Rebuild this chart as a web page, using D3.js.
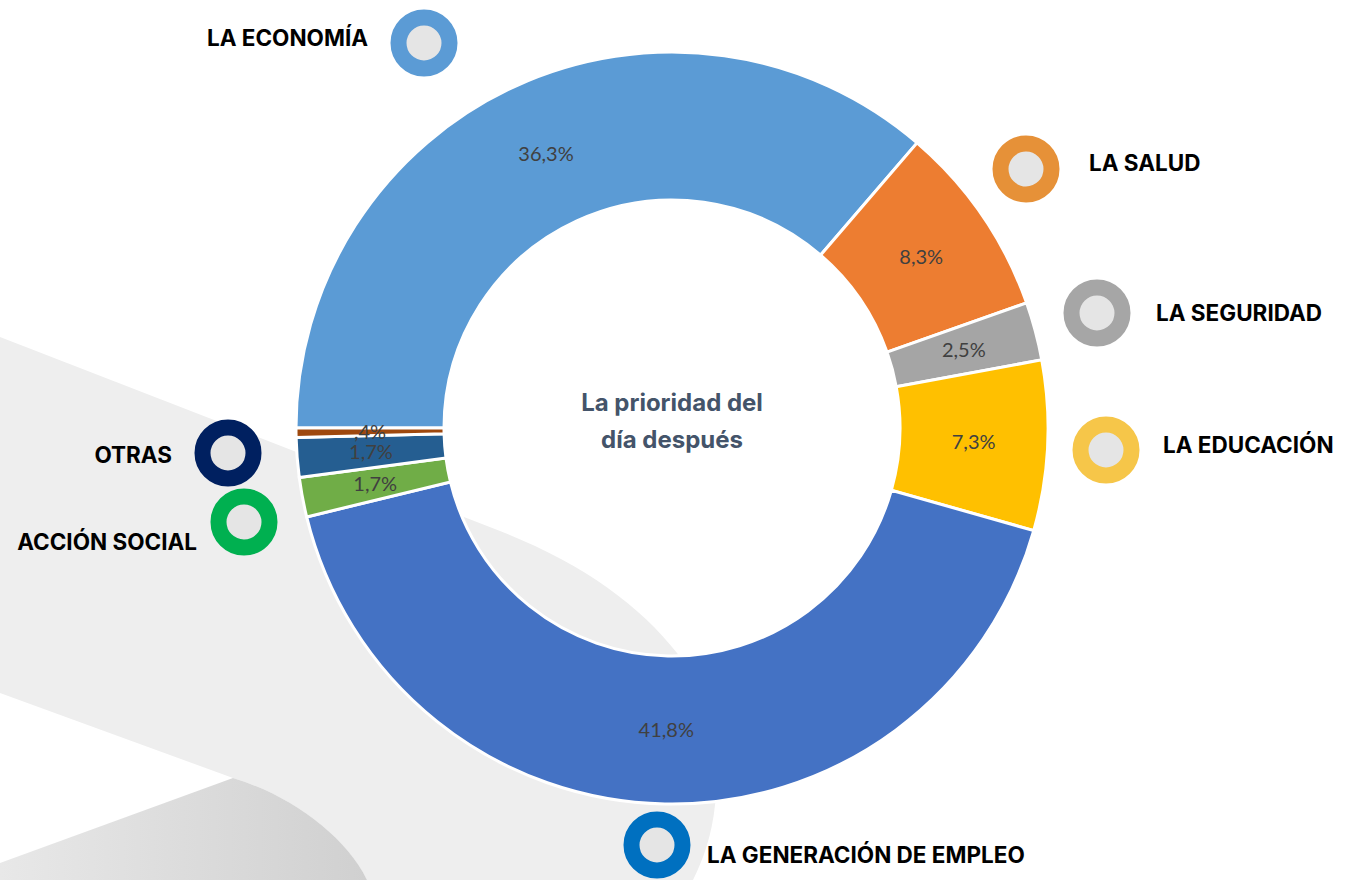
<!DOCTYPE html>
<html>
<head>
<meta charset="utf-8">
<script src="https://cdn.jsdelivr.net/npm/d3@7"></script>
<style>
  body { margin: 0; background: #ffffff; }
  svg { display: block; }
</style>
</head>
<body>
<div id="chart"></div>
<script>
// Slices of the donut, clockwise from 9 o'clock
var sliceNames = ["La economía", "La salud", "La seguridad", "La educación",
                  "La generación de empleo", "Acción social", "Otras", "Sin respuesta"];
var sliceValues = [36.3, 8.3, 2.5, 7.3, 41.8, 1.7, 1.7, 0.4];
var sliceColors = ["#5b9bd5", "#ed7d31", "#a5a5a5", "#ffc000",
                   "#4472c4", "#70ad47", "#255e91", "#9e480e"];

// Legend markers (ring + label)
var legendLabels = ["LA ECONOMÍA", "LA SALUD", "LA SEGURIDAD", "LA EDUCACIÓN",
                    "LA GENERACIÓN DE EMPLEO", "ACCIÓN SOCIAL", "OTRAS"];
var legendColors = ["#5b9bd5", "#e69138", "#a6a6a6", "#f6c649",
                    "#0070c0", "#00b050", "#002060"];

var titleLines = ["La prioridad del", "día después"];

var width = 1348, height = 880;
var cx = 672, cy = 428;
var outerR = 376, innerR = 228;

var svg = d3.select("#chart").append("svg")
    .attr("width", width)
    .attr("height", height);

// background swoosh
var defs = svg.append("defs");
var grad = defs.append("linearGradient").attr("id", "swoosh")
    .attr("x1", "0%").attr("x2", "100%").attr("y1", "0%").attr("y2", "0%");
grad.append("stop").attr("offset", "0%").attr("stop-color", "#e8e8e8");
grad.append("stop").attr("offset", "100%").attr("stop-color", "#d0d0d0");

svg.append("path")
    .attr("d", "M0,337 L500,531 C580,562 640,605 677,653 C705,690 722,760 715,805 " +
               "C712,835 703,860 693,880 L367,880 C345,835 290,795 233,778 L0,693 Z")
    .attr("fill", "#eeeeee");

svg.append("path")
    .attr("d", "M0,863 L233,778 C290,795 345,835 367,880 L0,880 Z")
    .attr("fill", "url(#swoosh)");

// donut
var pie = d3.pie()
    .sort(null)
    .startAngle(-Math.PI / 2)
    .endAngle(Math.PI * 1.5)
    .value(function(d) { return d; });

var arc = d3.arc().innerRadius(innerR).outerRadius(outerR);
var labelArc = d3.arc().innerRadius((innerR + outerR) / 2).outerRadius((innerR + outerR) / 2);

var g = svg.append("g").attr("transform", "translate(" + cx + "," + cy + ")");
var arcs = pie(sliceValues);

g.selectAll("path.slice")
    .data(arcs)
    .enter().append("path")
    .attr("class", "slice")
    .attr("d", arc)
    .attr("fill", function(d, i) { return sliceColors[i]; })
    .attr("stroke", "#ffffff")
    .attr("stroke-width", 3);

function fmt(v) {
    var s = d3.format(".1f")(v);
    if (v < 1) s = s.replace(/^0/, "");
    return s.replace(".", ",") + "%";
}

g.selectAll("text.val")
    .data(arcs)
    .enter().append("text")
    .attr("class", "val")
    .attr("transform", function(d) { return "translate(" + labelArc.centroid(d) + ")"; })
    .attr("dy", "0.35em")
    .attr("text-anchor", "middle")
    .attr("font-family", "Lato, sans-serif")
    .attr("font-size", 20)
    .attr("fill", "#404040")
    .text(function(d) { return fmt(d.value); });

// centre title
g.selectAll("text.title")
    .data(titleLines)
    .enter().append("text")
    .attr("class", "title")
    .attr("x", 0)
    .attr("y", function(d, i) { return -25 + i * 37; })
    .attr("dy", "0.35em")
    .attr("text-anchor", "middle")
    .attr("font-family", "Inter, sans-serif")
    .attr("font-weight", 700)
    .attr("font-size", 24)
    .attr("fill", "#44546a")
    .text(function(d) { return d; });

// legend layout: ring centre, text anchor point, side
var legendPos = [
    { cx: 424, cy: 43, tx: 368, ty: 38, anchor: "end" },
    { cx: 1026, cy: 169, tx: 1089, ty: 163, anchor: "start" },
    { cx: 1097, cy: 313, tx: 1156, ty: 313, anchor: "start" },
    { cx: 1106, cy: 450, tx: 1163, ty: 445, anchor: "start" },
    { cx: 657, cy: 845, tx: 707, ty: 855, anchor: "start" },
    { cx: 244, cy: 522, tx: 197, ty: 542, anchor: "end" },
    { cx: 228, cy: 453, tx: 172, ty: 455, anchor: "end" }
];

var legend = svg.selectAll("g.legend")
    .data(legendLabels)
    .enter().append("g")
    .attr("class", "legend");

legend.append("circle")
    .attr("cx", function(d, i) { return legendPos[i].cx; })
    .attr("cy", function(d, i) { return legendPos[i].cy; })
    .attr("r", 25.5)
    .attr("fill", "#e5e5e5")
    .attr("stroke", function(d, i) { return legendColors[i]; })
    .attr("stroke-width", 16);

legend.append("text")
    .attr("x", function(d, i) { return legendPos[i].tx; })
    .attr("y", function(d, i) { return legendPos[i].ty; })
    .attr("dy", "0.35em")
    .attr("text-anchor", function(d, i) { return legendPos[i].anchor; })
    .attr("font-family", "Inter, sans-serif")
    .attr("font-weight", 700)
    .attr("font-size", 22.5)
    .attr("fill", "#000000")
    .text(function(d) { return d; });
</script>
</body>
</html>
